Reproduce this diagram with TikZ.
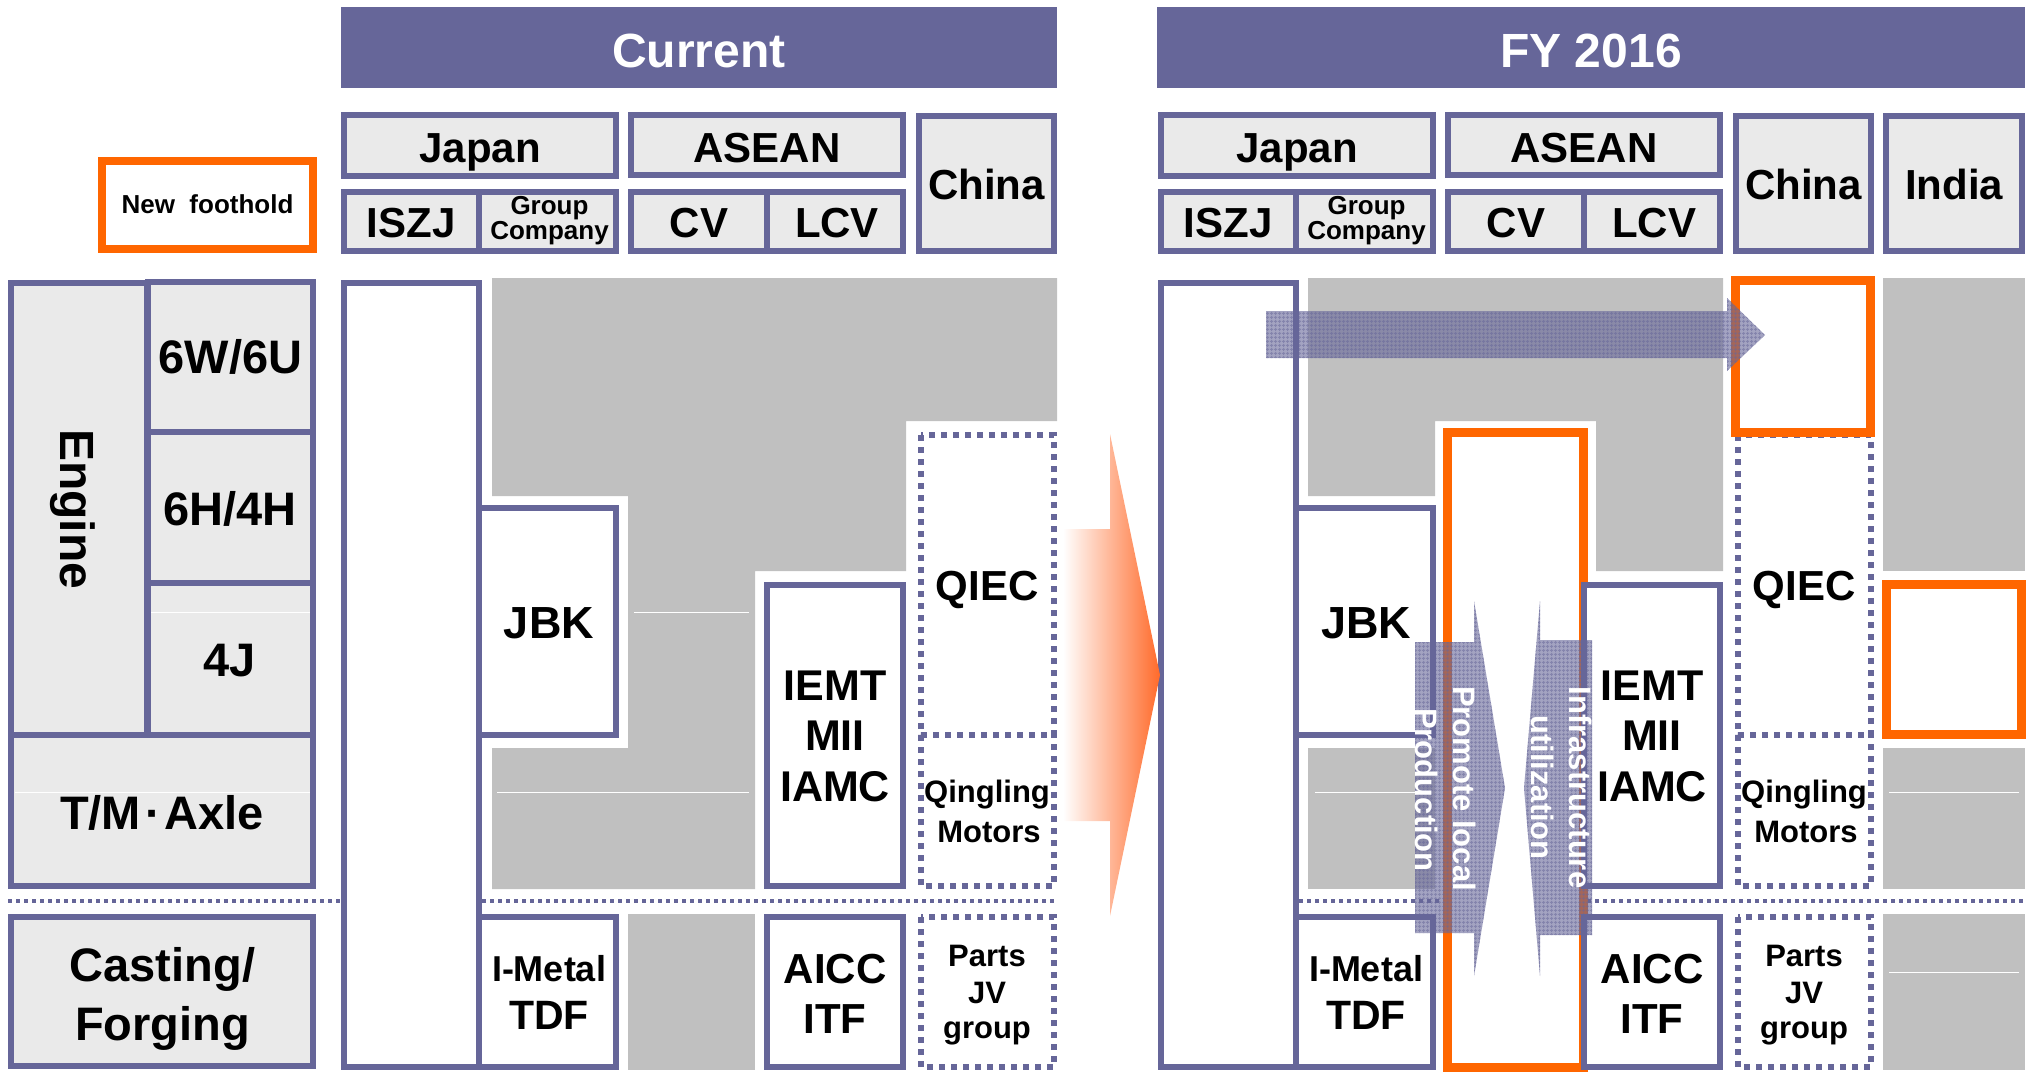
\documentclass[tikz,border=0pt]{standalone}
\usepackage{fontspec}
\setmainfont{Liberation Sans}
\usetikzlibrary{patterns.meta}
\definecolor{pur}{HTML}{666699}
\definecolor{lgray}{HTML}{EAEAEA}
\definecolor{mgray}{HTML}{C0C0C0}
\definecolor{org}{HTML}{FF6600}
\definecolor{redor}{HTML}{FF6A2A}
\newcommand\fsz[1]{\fontsize{#1}{#1}\selectfont\bfseries}
\newcommand\hdrboxes{%
  \draw[pbox] (344,115) rectangle (616,176);
  \draw[pbox] (344,192) rectangle (479,251);
  \draw[pbox] (479,192) rectangle (616,251);
  \draw[pbox] (631,115) rectangle (903,175);
  \draw[pbox] (631,192) rectangle (767,251);
  \draw[pbox] (767,192) rectangle (903,251);
  \draw[pbox] (919,116) rectangle (1054,251);
  \node[lbl,font=\fsz{42}] (japan) at (480,162) {Japan};
  \node[lbl,font=\fsz{42}] (asean) at (767,162) {ASEAN};
  \node[lbl,font=\fsz{42}] (iszj) at (411,237) {ISZJ};
  \node[lbl,font=\fsz{26}] (group) at (549.5,214) {Group};
  \node[lbl,font=\fsz{26}] (company) at (549.5,239) {Company};
  \node[lbl,font=\fsz{42}] (cv) at (699,237) {CV};
  \node[lbl,font=\fsz{42}] (lcv) at (837,237) {LCV};
  \node[lbl,font=\fsz{42}] (china) at (986.5,199) {China};
}
\newcommand\bodyboxes{%
  \draw[wbox] (344,283) rectangle (479,1067);
  \draw[wbox] (479,508) rectangle (616,735);
  \draw[wbox] (479,917) rectangle (616,1067);
  \draw[dbox] (921,435) rectangle (1054,735);
  \draw[dbox] (921,735) -- (921,886) -- (1054,886) -- (1054,735);
  \draw[dbox] (921,917) rectangle (1054,1067);
  \node[lbl,font=\fsz{45}] (jbk) at (549,638.6) {JBK};
  \node[lbl,font=\fsz{36}] (imetal) at (549,981) {I-Metal};
  \node[lbl,font=\fsz{41}] (tdf) at (549,1029) {TDF};
  \node[lbl,font=\fsz{42}] (qiec) at (987,600) {QIEC};
  \node[lbl,font=\fsz{31}] (qingling) at (987,802) {Qingling};
  \node[lbl,font=\fsz{31}] (motors) at (989,842) {Motors};
  \node[lbl,font=\fsz{31}] (parts) at (987,966) {Parts};
  \node[lbl,font=\fsz{31}] (jv) at (987,1003) {JV};
  \node[lbl,font=\fsz{31}] (grp) at (987,1038) {group};
}
\newcommand\asiaboxes{%
  \draw[wbox] (767,585) rectangle (903,886);
  \draw[wbox] (767,917) rectangle (903,1067);
  \node[lbl,font=\fsz{43}] (iemt) at (835,700) {IEMT};
  \node[lbl,font=\fsz{43}] (mii) at (835,750.5) {MII};
  \node[lbl,font=\fsz{43}] (iamc) at (835,801.5) {IAMC};
  \node[lbl,font=\fsz{42}] (aicc) at (835,983) {AICC};
  \node[lbl,font=\fsz{42}] (itf) at (835,1033) {ITF};
}
\begin{document}
\begin{tikzpicture}[x=1pt,y=-1pt,
  pbox/.style={draw=pur,line width=5.5pt,fill=lgray},
  wbox/.style={draw=pur,line width=5.5pt,fill=white},
  dbox/.style={draw=pur,line width=5.5pt,dash pattern=on 6pt off 6pt},
  dline/.style={draw=pur,line width=4pt,dash pattern=on 4pt off 4pt},
  obox/.style={draw=org,line width=9pt,fill=white},
  hatch/.style={fill=pur,fill opacity=0.6},
  hgrid/.style={pattern={Hatch[angle=0,distance=4pt,line width=1.2pt]},pattern color=pur,fill opacity=0.5},
  wline/.style={draw=white,line width=1pt},
  lbl/.style={anchor=base,inner sep=0pt,text=black},
  wlbl/.style={anchor=base,inner sep=0pt,text=white}]
\useasboundingbox (0,0) rectangle (2033,1077);

% banners
\fill[pur] (341,7) rectangle (1057,88);
\node[wlbl,font=\fsz{48}] (current) at (699,67) {Current};
\fill[pur] (1157,7) rectangle (2025,88);
\node[wlbl,font=\fsz{48}] (fy) at (1591,67) {FY 2016};

% legend
\draw[draw=org,line width=7.5pt,fill=white] (102,161) rectangle (313,249);
\node[lbl,font=\fsz{26}] (newfoot) at (207.5,213) {New~~foothold};

% left row labels
\draw[pbox] (11,283) rectangle (147,735);
\draw[pbox] (148,282) rectangle (313,432);
\draw[pbox] (148,432) rectangle (313,583);
\draw[pbox] (148,583) rectangle (313,735);
\draw[pbox] (11,735) rectangle (313,886);
\draw[pbox] (11,917) rectangle (313,1066);
\draw[wline] (151,612) -- (310,612);
\draw[wline] (15,792) -- (310,792);
\node[lbl,font=\fsz{48},rotate=-90] (engine) at (60,509) {Engine};
\node[lbl,font=\fsz{47}] (w6) at (230.5,373.6) {6W/6U};
\node[lbl,font=\fsz{47}] (h6) at (230,525) {6H/4H};
\node[lbl,font=\fsz{47}] (j4) at (230,676) {4J};
\node[lbl,font=\fsz{47}] (tm) at (162,829.7) {T/M\hspace{4pt}·\hspace{4pt}Axle};
\node[lbl,font=\fsz{47}] (casting) at (162.5,981) {Casting/};
\node[lbl,font=\fsz{47}] (forging) at (162.5,1040) {Forging};
\draw[dline] (8,901) -- (341,901);

% ===== Current =====
\begin{scope}[name prefix=cur-]
\fill[mgray] (492,278) -- (1057,278) -- (1057,421) -- (906,421) -- (906,571) -- (755,571)
  -- (755,889) -- (492,889) -- (492,748) -- (628,748) -- (628,496) -- (492,496) -- cycle;
\fill[mgray] (628,914) rectangle (755,1070);
\draw[wline] (634,612) -- (749,612);
\draw[wline] (497,792) -- (749,792);
\hdrboxes
\bodyboxes
\draw[dline] (482,901) -- (1057,901);
\asiaboxes
\end{scope}

% ===== FY 2016 =====
\begin{scope}[xshift=817pt,name prefix=fy-]
\fill[mgray] (491,278) -- (906,278) -- (906,571) -- (779,571) -- (779,421) -- (618,421)
  -- (618,496) -- (491,496) -- cycle;
\fill[mgray] (491,748) rectangle (618,889);
\draw[wline] (498,792) -- (610,792);
\hdrboxes
\bodyboxes
\draw[dline] (482,901) -- (1208,901);
\draw[obox] (630.5,432.5) rectangle (766.5,1067.5);
\draw[obox] (918.5,280.5) rectangle (1053.5,432.5);
\asiaboxes
\end{scope}

% India column
\draw[pbox] (1886,116) rectangle (2022,251);
\node[lbl,font=\fsz{42}] (india) at (1954,199) {India};
\fill[mgray] (1883,278) rectangle (2025,571);
\draw[obox] (1886.5,584.5) rectangle (2021.5,734.5);
\fill[mgray] (1883,748) rectangle (2025,889);
\fill[mgray] (1883,914) rectangle (2025,1070);
\draw[wline] (1889,792) -- (2019,792);
\draw[wline] (1889,972) -- (2019,972);

% big transition arrow
\shade[left color=white,right color=redor] (1063,529) -- (1110,529) -- (1110,434) -- (1160,675)
  -- (1110,916) -- (1110,821) -- (1063,821) -- cycle;

% hatched arrows
\path[hatch] (1266,311) -- (1727,311) -- (1727,298) -- (1765,335) -- (1727,371) -- (1727,358) -- (1266,358) -- cycle;
\path[hgrid] (1266,311) -- (1727,311) -- (1727,298) -- (1765,335) -- (1727,371) -- (1727,358) -- (1266,358) -- cycle;
\path[hatch] (1415,642) -- (1474,642) -- (1474,601) -- (1505,788) -- (1474,976) -- (1474,933) -- (1415,933) -- cycle;
\path[hgrid] (1415,642) -- (1474,642) -- (1474,601) -- (1505,788) -- (1474,976) -- (1474,933) -- (1415,933) -- cycle;
\path[hatch] (1592,640) -- (1540,640) -- (1540,601) -- (1524,788) -- (1540,976) -- (1540,935) -- (1592,935) -- cycle;
\path[hgrid] (1592,640) -- (1540,640) -- (1540,601) -- (1524,788) -- (1540,976) -- (1540,935) -- (1592,935) -- cycle;
\node[wlbl,font=\fsz{31},rotate=-90] (production) at (1415,790) {Production};
\node[wlbl,font=\fsz{31},rotate=-90] (promote) at (1453,788.5) {Promote local};
\node[wlbl,font=\fsz{31},rotate=-90] (utilization) at (1531,787.5) {utilization};
\node[wlbl,font=\fsz{31},rotate=-90] (infra) at (1569,787.5) {Infrastructure};
\end{tikzpicture}
\end{document}
